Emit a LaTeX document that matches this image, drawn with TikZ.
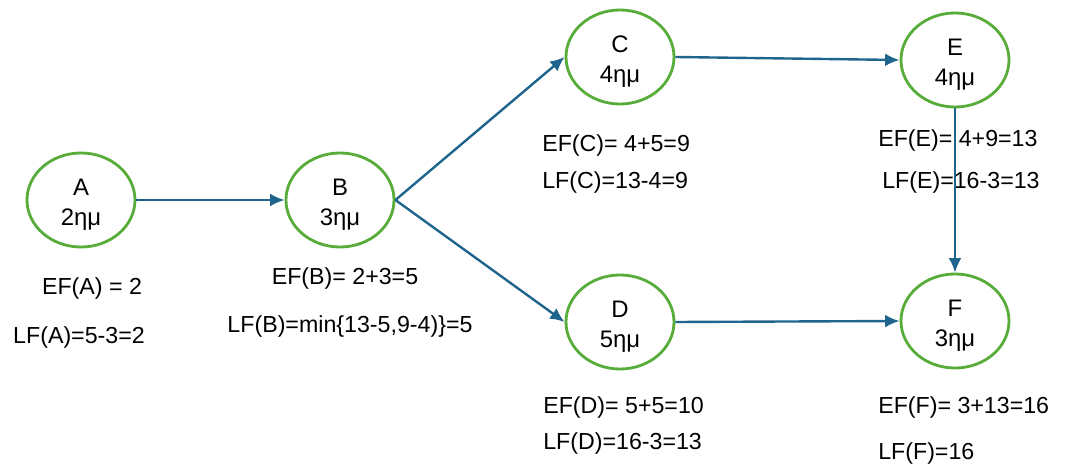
\documentclass[tikz,border=0pt]{standalone}
\usepackage{fontspec}
\setmainfont{Liberation Sans}
\usetikzlibrary{shapes.geometric,arrows.meta}
\definecolor{nodeGreen}{RGB}{88,172,58}
\definecolor{edgeBlue}{RGB}{30,100,140}
\newcommand{\topStrut}{\rule{0pt}{18.5pt}}
\tikzstyle{nS}=[ellipse,minimum width = 2.7cm,minimum height = 2.35cm,inner sep = 0pt,draw=nodeGreen,line width=2pt,align=center,font=\fontsize{17}{22}\selectfont]
\tikzstyle{eS}=[draw=edgeBlue,line width=1.7pt,-{Latex[length=0.36cm,width=0.32cm]}]
\tikzstyle{lS}=[inner sep = 0pt,font=\fontsize{16.5}{20}\selectfont]
\begin{document}
\begin{tikzpicture}[x=0.025cm,y=-0.025cm]
    \useasboundingbox (0,0) rectangle (1081,465);
    \draw (81,200) node[nS] (A) {\topStrut A\\2ημ};
    \draw (340,200) node[nS] (B) {\topStrut B\\3ημ};
    \draw (620,57) node[nS] (C) {\topStrut C\\4ημ};
    \draw (620,322) node[nS] (D) {\topStrut D\\5ημ};
    \draw (955,60) node[nS] (E) {\topStrut E\\4ημ};
    \draw (955,321) node[nS] (F) {\topStrut F\\3ημ};
    % early / late finish
    \draw (92,288) node[lS] (efA) {EF(A) = 2};
    \draw (79,337) node[lS] (lfA) {LF(A)=5-3=2};
    \draw (345,278) node[lS] (efB) {EF(B)= 2+3=5};
    \draw (350,327) node[lS] (lfB) {LF(B)=min\{13-5,9-4)\}=5};
    \draw (542,145) node[lS,anchor=west] (efC) {EF(C)= 4+5=9};
    \draw (542,182) node[lS,anchor=west] (lfC) {LF(C)=13-4=9};
    \draw (878,140) node[lS,anchor=west] (efE) {EF(E)= 4+9=13};
    \draw (882,182) node[lS,anchor=west] (lfE) {LF(E)=16-3=13};
    \draw (543,407) node[lS,anchor=west] (efD) {EF(D)= 5+5=10};
    \draw (543,443) node[lS,anchor=west] (lfD) {LF(D)=16-3=13};
    \draw (878,407) node[lS,anchor=west] (efF) {EF(F)= 3+13=16};
    \draw (878,453) node[lS,anchor=west] (lfF) {LF(F)=16};
    \path
        (A.east) edge[eS] (B.west)
        (B.east) edge[eS] (C.west)
        (B.east) edge[eS] (D.west)
        (C.east) edge[eS] (E.west)
        (D.east) edge[eS] (F.west)
        (E.south) edge[eS] (F.north)
    ;
\end{tikzpicture}
\end{document}
